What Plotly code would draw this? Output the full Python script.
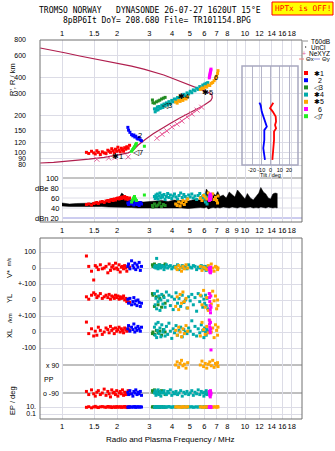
import numpy as np
import plotly.graph_objects as go

# ------------------------------------------------------------------ data
title_line1 = "TROMSO NORWAY   DYNASONDE 26-07-27 1620UT 15°E"
title_line2 = "8pBP6It DoY= 208.680 File= TR101154.BPG"
x_title = "Radio and Plasma Frequency / MHz"

freq_ticks = [1, 1.5, 2, 3, 4, 5, 6, 7, 8, 9, 10, 12, 14, 16, 18]
freq_labels_outer = ["1", "1.5", "2", "3", "4", "5", "6", "7", "8", "", "10", "12", "14", "16", "18"]
freq_labels_mid = ["1", "1.5", "2", "3", "4", "5", "6", "7", "8", "9", "10", "12", "14", "16", "18"]
height_ticks = [80, 90, 100, 120, 150, 200, 300, 400, 600, 800]
dbe_ticks = [100, 80, 60, 40, 20]
dbe_labels = ["100", "dBe 80", "60", "40", "dBn 20"]
tilt_ticks = [-20, -10, 0, 10, 20]
tilt_labels = ["-20", "-10", "0", "10", "20"]

# model virtual-height curve
model_f = [0.76, 0.9, 1.05, 1.25, 1.5, 1.8, 2.0, 2.4, 2.8, 3.2, 3.6, 4.0, 4.5, 5.0, 5.5, 5.9, 6.2, 6.45,
           6.6, 6.62, 6.5, 6.25, 5.9, 5.4, 4.9, 4.4, 3.9, 3.5, 3.15, 2.85, 2.6, 2.45, 2.3, 2.0, 1.7, 1.4,
           1.1, 0.9, 0.76]
model_h = [690, 660, 630, 596, 565, 538, 524, 495, 468, 445, 420, 395, 370, 350, 333, 318, 308, 300,
           290, 275, 262, 252, 238, 222, 207, 190, 172, 157, 142, 128, 115, 105, 100, 96, 92, 89,
           86, 84, 83]

# NeXYZ
ne_f = [1.55, 1.80, 1.95, 2.30, 3.30, 3.52, 3.74, 3.99, 4.25, 4.52, 4.82, 5.13, 5.47, 5.80]
ne_h = [89, 91, 92, 93, 131, 141, 150, 161, 170, 180, 194, 205, 220, 232]

# tilt profiles
tiltx_h = [252, 228, 214, 195, 178, 167, 157, 148, 127, 112, 96, 88]
tiltx_d = [3, -0.5, 2.4, 5.6, 6, 4.9, 6, 3.8, 3.8, 3, 2.4, 2]
tilty_h = [252, 240, 214, 195, 178, 162, 152, 127, 109, 96, 88]
tilty_d = [-12, -10.6, -9.5, -7.8, -6, -4, -6.7, -6.7, -7.8, -7, -6]

# T60dB noise band
noise_f = [1.0, 1.1, 1.2, 1.35, 1.5, 1.65, 1.8, 1.95, 2.05, 2.12, 2.18, 2.25, 2.4, 2.6, 2.8, 3.0, 3.2, 3.5,
           3.8, 4.1, 4.5, 4.9, 5.3, 5.7, 6.0, 6.15, 6.3, 6.5, 6.7, 6.9, 7.1, 7.3, 7.6, 7.9, 8.2, 8.5, 8.8,
           9.1, 9.4, 9.7, 10.0, 10.3, 10.7, 11.1, 11.5, 11.9, 12.2, 12.6, 13.0, 13.4, 13.8, 14.2, 14.6, 15.0]
noise_hi = [50, 48, 49, 49, 50, 51, 53, 56, 60, 70, 66, 58, 56, 53, 52, 53, 54, 55, 53, 56, 55, 54, 57, 56,
            60, 78, 72, 68, 70, 65, 73, 63, 66, 60, 72, 66, 62, 76, 70, 64, 58, 69, 60, 56, 64, 70, 81, 72,
            68, 60, 58, 68, 70, 69]
noise_lo = [44, 43, 43, 42, 43, 43, 42, 42, 41, 42, 41, 41, 41, 40, 40, 40, 39, 40, 39, 40, 40, 39, 40, 41,
            40, 42, 38, 40, 41, 40, 41, 40, 42, 41, 40, 42, 41, 40, 42, 41, 40, 41, 42, 40, 41, 40, 42, 41,
            40, 42, 41, 40, 41, 40]

# echo class 1 (red)
red_f = [1.36, 1.40, 1.45, 1.49, 1.52, 1.55, 1.58, 1.62, 1.66, 1.70, 1.74, 1.78, 1.81, 1.84, 1.87, 1.90,
         1.93, 1.96, 1.99, 2.02, 2.05, 2.08, 2.11, 2.14, 2.17, 2.20, 2.23, 2.26, 2.30, 2.34]
red_h = [101, 99, 103, 100, 98, 104, 101, 97, 102, 100, 99, 105, 103, 101, 108, 104, 100, 107, 103, 111,
         105, 102, 109, 106, 103, 110, 107, 112, 109, 115]
red_dbe = [47, 48, 46, 49, 50, 51, 49, 52, 53, 51, 54, 55, 53, 56, 57, 55, 58, 56, 59, 60, 58, 61, 59, 62,
           60, 63, 58, 61, 57, 60]
red_v = [75, 10, -20, -75, 15, 5, -10, 20, -5, 0, 10, -30, 25, -15, 5, 15, -5, 30, 0, -10, 20, -25, 5, 10,
         -5, 15, 0, -20, 10, 5]
red_yl = [20, 5, 30, 45, 35, 15, 25, 40, 10, 20, 30, 15, 35, 5, 25, 20, 10, 30, 15, 25, 5, 20, 10, 15, 25,
          0, 10, -10, 5, -15]
red_xl = [62, -10, 20, -25, 5, -20, 30, 10, -15, 0, 25, 15, -5, 35, 10, 20, -10, 25, 5, 15, 30, 0, 20, 10,
          -5, 25, 15, 5, 20, 10]
red_pp = [-80, -100, -70, -95, -110, -85, -75, -100, -90, -65, -105, -80, -95, -115, -70, -90, -85, -100,
          -75, -110, -90, -80, -95, -70, -105, -85, -100, -90, -75, -95]
red_ep = [8, 12, 6, 10, 15, 9, 7, 11, 13, 10, 8, 14, 9, 12, 7, 10, 11, 8, 13, 9, 10, 12, 8, 11, 9, 14, 10,
          7, 12, 9]

# echo class 2 (blue)
blue_f = [2.29, 2.31, 2.35, 2.40, 2.44, 2.47, 2.50, 2.53, 2.57, 2.60, 2.64, 2.68, 2.72]
blue_h = [160, 152, 146, 140, 137, 139, 134, 136, 131, 129, 133, 127, 125]
blue_dbe = [50, 47, 52, 48, 55, 46, 50, 53, 47, 49, 45, 51, 48]
blue_v = [10, 25, -5, 45, 15, 0, 30, -10, 20, 5, 35, -15, 10]
blue_yl = [5, -20, 10, -30, -10, 15, -25, -5, -35, 0, -15, -40, -20]
blue_xl = [20, 40, 5, 30, 15, 50, 0, 25, 10, 35, 20, 5, 30]
blue_pp = [-85, -100, -75, -95, -110, -80, -90, -70, -100, -85, -95, -80, -105]
blue_ep = [10, 8, 12, 9, 11, 10, 13, 8, 10, 12, 9, 11, 10]

# echo class 3 (dark green)
dgreen_f = [3.12, 3.14, 3.20, 3.28, 3.35, 3.42, 3.50, 3.58, 3.66]
dgreen_h = [265, 252, 250, 256, 260, 264, 270, 274, 278]
dgreen_dbe = [45, 42, 48, 44, 46, 50, 43, 47, 45]
dgreen_v = [20, 10, 25, 15, 5, 20, 10, 15, 25]
dgreen_yl = [40, 30, -40, 20, -30, 10, -45, 25, -20]
dgreen_xl = [-10, 0, -15, 10, -5, 5, -20, 15, 0]
dgreen_pp = [-75, -85, -70, -95, -80, -90, -75, -85, -100]
dgreen_ep = [10, 12, 9, 11, 10, 8, 12, 10, 9]

# echo class 4 (teal)
teal_f = [3.20, 3.23, 3.26, 3.29, 3.32, 3.35, 3.39, 3.43, 3.47, 3.51, 3.56, 3.61, 3.66, 3.72, 3.78, 3.84,
          3.91, 3.98, 4.05, 4.12, 4.20, 4.28, 4.36, 4.45, 4.54, 4.63, 4.72, 4.82, 4.92, 5.02, 5.12, 5.22,
          5.33, 5.44, 5.55, 5.66, 5.77, 5.88, 5.96, 6.02, 6.08, 6.14, 6.20, 6.26]
teal_h = [225, 213, 224, 220, 233, 221, 235, 227, 229, 241, 231, 246, 239, 251, 242, 257, 248, 263, 256,
          270, 262, 277, 271, 285, 278, 294, 286, 302, 296, 311, 303, 319, 314, 329, 322, 339, 332, 349,
          340, 355, 346, 360, 350, 365]
teal_dbe = [63, 59, 66, 61, 68, 58, 64, 70, 60, 65, 62, 67, 57, 63, 69, 61, 66, 59, 64, 68, 62, 58, 65, 70,
            61, 67, 63, 59, 66, 62, 68, 60, 64, 57, 65, 69, 61, 63, 58, 66, 52, 60, 48, 62]
teal_v = [5, 15, 0, 60, 10, -5, 20, 5, 0, 15, 10, -10, 5, 20, 0, 10, 15, -5, 5, 10, 0, 20, -10, 5, 15, 0,
          10, -5, 20, 5, 0, 15, 10, -10, 5, 0, 15, 5, -5, 10, 0, -15, 5, 10]
teal_yl = [40, -30, 10, -55, 55, -10, 25, -65, 0, 35, -25, 15, -45, 50, -5, 30, -35, 20, -60, 5, 45, -20,
           10, -40, 30, -15, 0, -50, 20, -5, 35, -30, 15, -70, 40, -10, 25, -45, 5, -20, 30, -35, 10, -55]
teal_xl = [30, -20, 50, -35, 10, 60, -10, 25, -30, 45, 0, 15, -25, 35, -15, 55, 5, -40, 20, -5, 40, -20,
           10, 30, -30, 15, 0, -10, 25, 5, 70, -15, 35, -25, 20, -5, 45, 10, -35, 25, 0, -20, 15, 5]
teal_pp = [-90, -75, -105, -85, -95, -70, -100, -80, -110, -90, -85, -75, -95, -100, -80, -90, -70, -105,
           -85, -95, -80, -100, -90, -75, -110, -85, -95, -80, -100, -90, -75, -105, -85, -95, -70, -100,
           -80, -90, -110, -85, -95, -75, -100, -90]
teal_ep = [9, 11, 10, 8, 12, 10, 13, 9, 11, 10, 8, 12, 10, 9, 11, 14, 10, 8, 12, 10, 9, 11, 13, 10, 8, 12,
           10, 9, 11, 10, 12, 8, 10, 11, 9, 13, 10, 8, 12, 9, 11, 10, 8, 12]

# echo class 5 (orange)
orange_f = [4.18, 4.26, 4.34, 4.42, 4.50, 4.58, 4.66, 4.76, 4.86, 5.70, 5.82, 5.94, 6.06, 6.18, 6.30,
            6.42, 6.54, 6.66, 6.78, 6.90, 7.00, 7.08, 7.12]
orange_h = [255, 250, 262, 258, 266, 263, 272, 270, 280, 322, 330, 328, 338, 336, 348, 346, 360, 366, 378,
            392, 410, 432, 455]
orange_dbe = [48, 45, 52, 44, 50, 55, 47, 53, 58, 60, 55, 65, 62, 58, 70, 66, 63, 68, 57, 61, 55, 50, 64]
orange_v = [5, -10, 15, 0, -20, 10, -5, 20, 0, 10, -15, 5, 0, -10, 15, -5, 25, 0, -20, 10, 5, -10, 0]
orange_yl = [-40, 20, -60, 35, -20, 50, -10, 10, -50, 30, -30, 60, -45, 15, -65, 40, -25, 55, -5, 25, -55,
             0, -35]
orange_xl = [10, -20, 30, 0, -30, 20, -10, 40, 5, -25, 60, 15, -15, 35, -5, 70, 0, 25, -35, 45, 10, -20, 30]
orange_pp = [90, 110, 75, 100, 120, 85, 95, 70, 105, 90, 115, 80, 100, 70, 95, 110, 85, 120, 75, 100, 90,
             105, 80]
orange_ep = [10, 12, 9, 11, 8, 13, 10, 9, 12, 11, 10, 8, 12, 9, 14, 10, 11, 8, 12, 10, 9, 13, 10]

# echo class 6 (magenta)
magenta_f = [6.38, 6.40, 6.42, 6.44, 6.46, 6.48, 6.50, 6.52]
magenta_h = [398, 408, 418, 428, 438, 448, 458, 468]
magenta_dbe = [55, 60, 65, 58, 68, 62, 57, 64]
magenta_v = [0, -10, -25, -5, -15, -30, 5, -20]
magenta_yl = [40, 15, -10, -35, -60, -80, 25, -45]
magenta_xl = [75, 50, 30, 10, -5, 60, 20, -112]
magenta_pp = [-80, -95, -105, -85, -115, -75, -100, -90]
magenta_ep = [10, 8, 12, 9, 14, 11, 7, 10]

# echo class 7 (bright green)
bgreen_f = [2.40, 2.43, 2.46, 2.49, 2.52, 2.55, 2.82]
bgreen_h = [103, 106, 109, 112, 116, 119, 113]
bgreen_dbe = [52, 56, 60, 63, 58, 55, 66]

legend_labels = ["✱1", "  2", "◁3", "✱4", "✱5", "  6", "◁7"]

# ------------------------------------------------------------------ layout helpers
W, H = 335, 451
ML, MR, MT, MB = 40, 33, 40, 32
PW = W - ML - MR
PH = H - MT - MB


def px(x):
    return (x - ML) / PW


def py(y):
    return (H - MB - y) / PH


F_RANGE = [-0.1202, 1.3115]


def fpaper(f):
    return (np.log10(f) - F_RANGE[0]) / (F_RANGE[1] - F_RANGE[0])


# lower panel: stacked sub-scales on one axis (units of the axis = pixels above bottom)
def u_v(a): return [151 + 0.16 * x for x in a]
def u_yl(a): return [119 + 0.16 * x for x in a]
def u_xl(a): return [87 + 0.16 * x for x in a]
def u_pp(a): return [40 + x * 14.0 / 90.0 for x in a]
def u_ep(a): return [12 + 3.5 * (np.log10(x) - 1) for x in a]


low_tickvals = [167, 151, 135, 119, 103, 87, 71, 12, 5]
low_ticktext = ["100", "0", "+-100", "0", "+-100", "0", "-100", "10.", "0.1"]

GRID = "#dcdce6"
FRAME = "#707070"
FONT = "Liberation Sans"
MONO = "DejaVu Sans Mono"

fig = go.Figure()

# ---- top panel: model curve and NeXYZ
fig.add_trace(go.Scatter(x=model_f, y=model_h, mode="lines", line=dict(color="#b01e4e", width=1.2),
                         xaxis="x", yaxis="y", hoverinfo="skip"))
ne_pairs = [(f, h) for f, h in zip(ne_f, ne_h) if f >= 3]
fig.add_trace(go.Scatter(x=[p[0] for p in ne_pairs], y=[p[1] for p in ne_pairs], mode="lines",
                         line=dict(color="#e8609a", width=1), xaxis="x", yaxis="y", hoverinfo="skip"))
fig.add_trace(go.Scatter(x=ne_f, y=ne_h, mode="markers",
                         marker=dict(symbol="x-thin", size=5, line=dict(color="#e8609a", width=1)),
                         xaxis="x", yaxis="y", hoverinfo="skip"))

# ---- noise band
fig.add_trace(go.Scatter(x=noise_f + noise_f[::-1], y=noise_hi + noise_lo[::-1], fill="toself",
                         fillcolor="black", mode="lines", line=dict(color="black", width=0.5),
                         xaxis="x2", yaxis="y2", hoverinfo="skip"))

clusters = [
    ("#ff0000", red_f, red_h, red_dbe, red_v, red_yl, red_xl, red_pp, red_ep),
    ("#0000ff", blue_f, blue_h, blue_dbe, blue_v, blue_yl, blue_xl, blue_pp, blue_ep),
    ("#228b22", dgreen_f, dgreen_h, dgreen_dbe, dgreen_v, dgreen_yl, dgreen_xl, dgreen_pp, dgreen_ep),
    ("#00aaaa", teal_f, teal_h, teal_dbe, teal_v, teal_yl, teal_xl, teal_pp, teal_ep),
    ("#ffa500", orange_f, orange_h, orange_dbe, orange_v, orange_yl, orange_xl, orange_pp, orange_ep),
    ("#ff00ff", magenta_f, magenta_h, magenta_dbe, magenta_v, magenta_yl, magenta_xl, magenta_pp, magenta_ep),
    ("#22ee22", bgreen_f, bgreen_h, bgreen_dbe, None, None, None, None, None),
]
legend_colors = ["#ff0000", "#0000ff", "#228b22", "#00aaaa", "#ffa500", "#ff00ff", "#22ee22"]

mk = dict(symbol="square", size=3, line=dict(width=0))
for col, f, h, dbe, v, yl, xl, pp, ep in clusters:
    m = dict(mk, color=col)
    fig.add_trace(go.Scatter(x=f, y=h, mode="markers", marker=m, xaxis="x", yaxis="y", hoverinfo="skip"))
    fig.add_trace(go.Scatter(x=f, y=dbe, mode="markers", marker=m, xaxis="x2", yaxis="y2", hoverinfo="skip"))
    if v is not None:
        for mapped in (u_v(v), u_yl(yl), u_xl(xl), u_pp(pp), u_ep(ep)):
            fig.add_trace(go.Scatter(x=f, y=mapped, mode="markers", marker=m, xaxis="x3", yaxis="y3",
                                     hoverinfo="skip"))

# ---- tilt inset
fig.add_trace(go.Scatter(x=tiltx_d, y=tiltx_h, mode="lines", line=dict(color="#ff0000", width=1.8),
                         xaxis="x4", yaxis="y4", hoverinfo="skip"))
fig.add_trace(go.Scatter(x=tilty_d, y=tilty_h, mode="lines", line=dict(color="#0000ff", width=1.8),
                         xaxis="x4", yaxis="y4", hoverinfo="skip"))

tickfont = dict(family=FONT, size=7.5, color="black")
xcommon = dict(type="log", range=F_RANGE, tickvals=freq_ticks, showgrid=True, gridcolor=GRID,
               zeroline=False, showline=False, ticks="", tickfont=tickfont, domain=[0, 1], tickangle=0)

shapes = []
ann = []


def text(x, y, s, size=8, color="black", xanchor="center", family=FONT, angle=0, yanchor="middle"):
    ann.append(dict(x=px(x), y=py(y), xref="paper", yref="paper", text=s, showarrow=False,
                    xanchor=xanchor, yanchor=yanchor, textangle=angle,
                    font=dict(family=family, size=size, color=color)))


# frames
shapes.append(dict(type="rect", xref="paper", yref="paper", x0=0, x1=1, y0=py(222), y1=1,
                   line=dict(color=FRAME, width=1)))
shapes.append(dict(type="rect", xref="paper", yref="paper", x0=0, x1=1, y0=0, y1=py(238),
                   line=dict(color=FRAME, width=1)))
# dBe lines and labels
x1p = fpaper(1)
for val, lab in zip(dbe_ticks, dbe_labels):
    col = "#8a8a8a" if val == 100 else ("#9a9ae0" if val == 20 else GRID)
    shapes.append(dict(type="line", xref="paper", yref="y2", x0=x1p, x1=1, y0=val, y1=val,
                       line=dict(color=col, width=1), layer="below"))
    ann.append(dict(x=x1p, y=val, xref="paper", yref="y2", text=lab, showarrow=False, xanchor="right",
                    yanchor="middle", xshift=-1, font=dict(family=FONT, size=7.5, color="black")))
# PP lines and labels
for uval, lab in ((54, "x 90"), (26, "o -90")):
    shapes.append(dict(type="line", xref="paper", yref="y3", x0=x1p, x1=1, y0=uval, y1=uval,
                       line=dict(color="#808080", width=1), layer="below"))
    ann.append(dict(x=x1p, y=uval, xref="paper", yref="y3", text=lab, showarrow=False, xanchor="right",
                    yanchor="middle", xshift=-1, font=dict(family=FONT, size=7, color="black")))
text(42, 379, "PP", size=7, xanchor="left")

# inset frame
shapes.append(dict(type="rect", xref="paper", yref="paper", x0=px(242), x1=px(298), y0=py(165), y1=py(66),
                   line=dict(color="#a8a8c0", width=1.5)))
text(270, 175, "Tilt / deg", size=5.5)

# titles
text(150, 11, title_line1, size=8, family=MONO)
text(157, 20.5, title_line2, size=8, family=MONO)
shapes.append(dict(type="rect", xref="paper", yref="paper", x0=px(272), x1=px(333), y0=py(15), y1=py(2),
                   fillcolor="#ffff00", line=dict(color="#ff0000", width=1)))
text(302.5, 8.5, "HPTx is OFF!", size=7.8, color="#ff0000", family=MONO)

text(12, 80, "R', R / km", size=7.5, angle=-90)
text(170, 439, x_title, size=8)
text(9, 262, "m/s", size=5, angle=-90)
text(9, 274, "V*", size=7.5, angle=-90)
text(9, 299, "YL", size=7.5, angle=-90)
text(10, 318, "/km", size=6, angle=-90)
text(9, 334, "XL", size=7.5, angle=-90)
text(12, 401, "EP / deg", size=7.5, angle=-90)

# trace labels
for s, f, h in (("✱1", 2.02, 94), ("2", 2.67, 139), ("◁7", 2.60, 101), ("◁3", 3.74, 240),
                ("✱4", 4.64, 280), ("✱5", 6.27, 306), ("6", 6.93, 404)):
    ann.append(dict(x=np.log10(f), y=np.log10(h), xref="x", yref="y", text=s, showarrow=False,
                    font=dict(family=FONT, size=7.5, color="black")))

# legend
shapes.append(dict(type="line", xref="paper", yref="paper", x0=px(303), x1=px(308), y0=py(41), y1=py(41),
                   line=dict(color="#909090", width=1)))
text(309, 41, "T60dB", size=6.5, xanchor="left")
shapes.append(dict(type="rect", xref="paper", yref="paper", x0=px(305), x1=px(306.2), y0=py(47.6),
                   y1=py(46.4), fillcolor="black", line=dict(width=0)))
text(309, 47, "UnCl", size=6.5, xanchor="left")
text(304, 53, "+", size=7, color="#e8609a")
text(307, 53, "NeXYZ", size=6.5, xanchor="left")
shapes.append(dict(type="line", xref="paper", yref="paper", x0=px(299), x1=px(304), y0=py(59), y1=py(59),
                   line=dict(color="#f08080", width=1)))
text(304, 59, "Θx", size=6, xanchor="left")
shapes.append(dict(type="line", xref="paper", yref="paper", x0=px(314), x1=px(320), y0=py(59), y1=py(59),
                   line=dict(color="#9090e0", width=1)))
text(320, 59, "Θy", size=6, xanchor="left")
for i, (lab, col) in enumerate(zip(legend_labels, legend_colors)):
    yy = 73 + i * 7.2
    shapes.append(dict(type="rect", xref="paper", yref="paper", x0=px(304), x1=px(308), y0=py(yy + 2),
                       y1=py(yy - 2), fillcolor=col, line=dict(width=0)))
    text(312, yy, lab, size=7, xanchor="left")

fig.update_layout(
    width=W, height=H, margin=dict(l=ML, r=MR, t=MT, b=MB),
    paper_bgcolor="white", plot_bgcolor="rgba(0,0,0,0)", showlegend=False,
    xaxis=dict(xcommon, side="top", anchor="y", ticktext=freq_labels_outer, ticklabelstandoff=2),
    yaxis=dict(domain=[py(172), 1], type="log", range=[1.8471, 2.9031], tickvals=height_ticks,
               ticktext=[str(t) for t in height_ticks], showgrid=True, gridcolor=GRID, zeroline=False,
               showline=False, ticks="", tickfont=dict(family=FONT, size=7, color="black"),
               ticklabelstandoff=13, anchor="x"),
    xaxis2=dict(xcommon, anchor="y2", ticktext=freq_labels_mid, ticklabelstandoff=2),
    yaxis2=dict(domain=[py(222), py(172)], range=[12, 112], showticklabels=False, showgrid=False,
                zeroline=False, showline=False, anchor="x2"),
    xaxis3=dict(xcommon, anchor="y3", ticktext=freq_labels_outer, ticklabelstandoff=1),
    yaxis3=dict(domain=[0, py(238)], range=[0, 181], tickvals=low_tickvals, ticktext=low_ticktext,
                showgrid=True, gridcolor=GRID, zeroline=False, showline=False, ticks="",
                tickfont=dict(family=FONT, size=7, color="black"), ticklabelstandoff=3, anchor="x3"),
    xaxis4=dict(domain=[px(242), px(298)], range=[-30.8, 29.7], tickvals=tilt_ticks, ticktext=tilt_labels,
                showgrid=True, gridcolor="#b4b4c8", zeroline=False, showline=False, ticks="", anchor="y4",
                tickangle=0, tickfont=dict(family=FONT, size=5.5, color="black"), ticklabelstandoff=0),
    yaxis4=dict(domain=[py(165), py(66)], type="log", range=[1.9031, 2.6951], showticklabels=False,
                showgrid=False, zeroline=False, showline=False, anchor="x4"),
    shapes=shapes, annotations=ann,
)

fig.write_html("out.html")
